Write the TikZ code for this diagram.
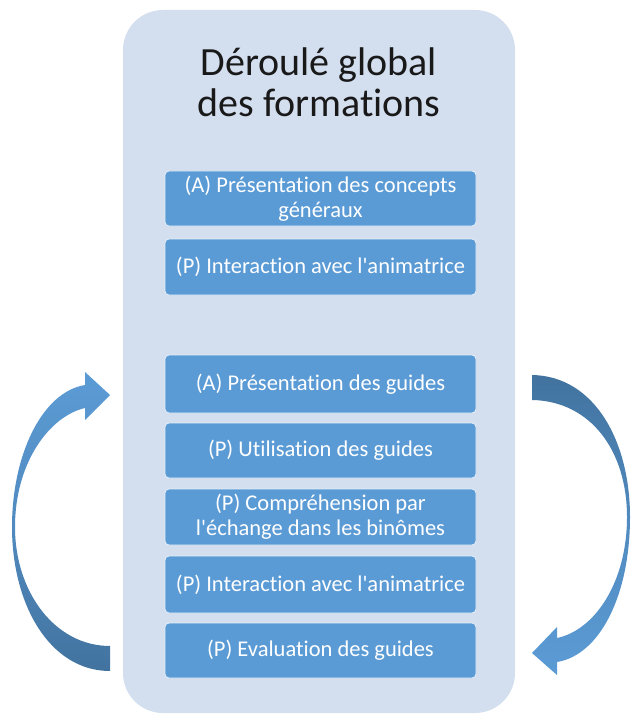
\documentclass[tikz,border=0pt]{standalone}
\usepackage{fontspec}
\newfontfamily\calibri{Carlito}[Ligatures={NoCommon,NoContextual},Contextuals=NoAlternate]
\definecolor{panel}{HTML}{D3DEEF}
\definecolor{boxblue}{HTML}{5B9BD5}
\definecolor{darkblue}{HTML}{42739F}
\begin{document}
\begin{tikzpicture}[x=1pt,y=-1pt,
  stepbox/.style={draw=white!85!boxblue, line width=0.8pt, fill=boxblue, rounded corners=4pt,
     minimum width=311pt, align=center, text=white, inner sep=0pt,
     font=\calibri\fontsize{22.5}{25}\selectfont}]
\useasboundingbox (0,0) rectangle (638,722);
% panel
\node[fill=panel, rounded corners=40pt, minimum width=392pt, minimum height=703pt, inner sep=0pt] (panel) at (319,361.5) {};
\node[font=\calibri\fontsize{40}{41}\selectfont, align=center, text=black!90] (title) at (319,82) {Déroulé global\\des formations};
% boxes
\node[stepbox, minimum height=55pt] (b1) at (320.5,198.5) {(A) Présentation des concepts\\généraux};
\node[stepbox, minimum height=56pt] (b2) at (320.5,267) {(P) Interaction avec l'animatrice};
\node[stepbox, minimum height=58pt] (b3) at (320.5,384) {(A) Présentation des guides};
\node[stepbox, minimum height=55pt] (b4) at (320.5,450.5) {(P) Utilisation des guides};
\node[stepbox, minimum height=56pt] (b5) at (320.5,517) {(P) Compréhension par\\l'échange dans les binômes};
\node[stepbox, minimum height=57pt] (b6) at (320.5,584.5) {(P) Interaction avec l'animatrice};
\node[stepbox, minimum height=55pt] (b7) at (320.5,650.5) {(P) Evaluation des guides};
% left curved arrow
\shade[top color=boxblue, bottom color=darkblue, middle color=boxblue!60!darkblue]
  (110,671) .. controls (50,671) and (12,605) .. (12,527)
  .. controls (12,455) and (42,392) .. (85,385)
  -- (85,372) -- (110,395) -- (85,420) -- (85,408)
  .. controls (50,416) and (15,462) .. (15,527)
  .. controls (15,592) and (55,646) .. (110,646) -- cycle;
% right curved arrow
\shade[top color=darkblue, bottom color=boxblue, middle color=boxblue!60!darkblue]
  (532,375) .. controls (595,376) and (630,442) .. (630,517)
  .. controls (630,595) and (600,655) .. (557,662)
  -- (557,675) -- (532,653) -- (557,627) -- (557,638)
  .. controls (595,630) and (627,582) .. (627,517)
  .. controls (627,450) and (590,401) .. (532,400) -- cycle;
\end{tikzpicture}
\end{document}
